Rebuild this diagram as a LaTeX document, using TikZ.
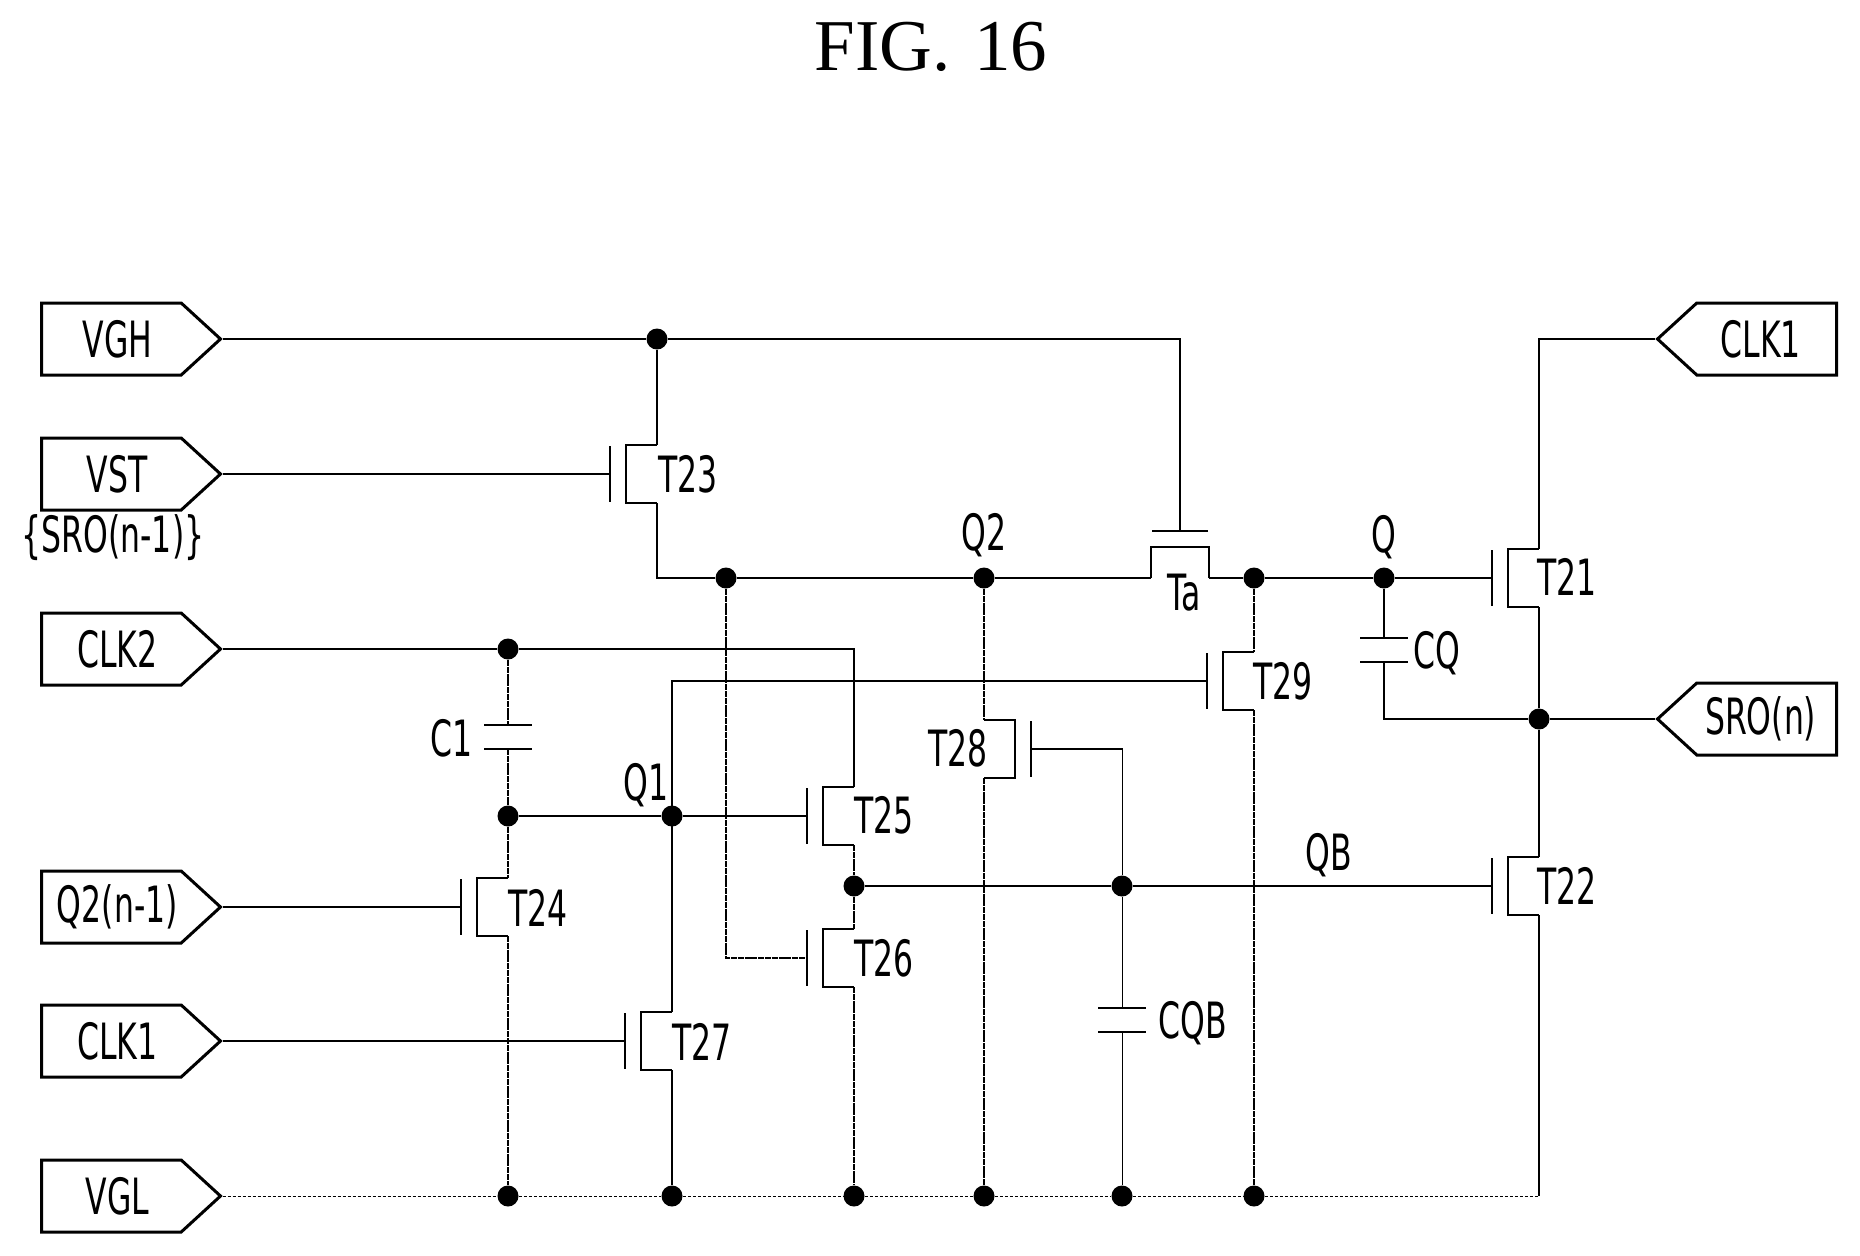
\documentclass[tikz,border=0pt]{standalone}
\usepackage{fontspec}
\usepackage{xcolor}
\usepackage{tikz}
\usetikzlibrary{shapes.symbols}
\setmainfont{Liberation Serif}
\newfontfamily\schemfont[FakeStretch=0.63]{DejaVu Sans}
\tikzset{
    wire/.style={line width=1.1pt, black},
    thinwire/.style={line width=0.7pt, black, dash pattern=on 3pt off 0.4pt},
    faintwire/.style={line width=0.35pt, black},
    railwire/.style={line width=0.45pt, black, dash pattern=on 1.6pt off 0.9pt},
    jdot/.style={circle, fill=black, draw=none, minimum size=10.5pt, inner sep=0pt},
    netlabel/.style={font=\schemfont\fontsize{25}{25}\selectfont, inner sep=0pt},
    tag/.style={shape=signal, draw=black, line width=1.5pt, fill=white, inner sep=0pt,
        minimum width=89.5pt, minimum height=36pt, signal pointer angle=85,
        font=\schemfont\fontsize{25}{25}\selectfont},
    tagin/.style={tag, signal to=east, anchor=west, execute at begin node=\hspace*{6pt}},
    tagout/.style={tag, signal to=west, anchor=east, execute at end node=\hspace*{6pt}},
    pics/tft/.style={code={
        \draw[line width=1.1pt] (0,-29) -- (-31,-29) -- (-31,29) -- (0,29);
        \draw[line width=1.3pt] (-47,-28) -- (-47,28);
        \coordinate (-d) at (0,-29);
        \coordinate (-s) at (0,29);
        \coordinate (-g) at (-47,0);
    }},
    pics/cap/.style={code={
        \draw[line width=1.3pt] (-24,-12) -- (24,-12);
        \draw[line width=1.3pt] (-24,12) -- (24,12);
        \coordinate (-a) at (0,-12);
        \coordinate (-b) at (0,12);
    }},
}

\begin{document}
\begin{tikzpicture}[x=0.5pt, y=-0.5pt]
    \useasboundingbox (0,0) rectangle (1860,1255);

    \node[font=\fontsize{36.5}{36.5}\selectfont, inner sep=0pt] (title) at (931,47) {FIG.\hspace{12pt}16};

    \node[tagin] (vgh) at (40,339) {VGH};
    \node[tagin] (vst) at (40,474) {VST};
    \node[netlabel] (srolabel) at (113,538) {\{SRO(n-1)\}};
    \node[tagin] (clk2) at (40,649) {CLK2};
    \node[tagin] (q2prev) at (40,907) {Q2(n-1)};
    \node[tagin] (clk1in) at (40,1041) {CLK1};
    \node[tagin] (vgl) at (40,1196) {VGL};
    \node[tagout] (clk1out) at (1838,339) {CLK1};
    \node[tagout] (sro) at (1838,719) {SRO(n)};

    \pic (t23) at (657,474) {tft};
    \pic (t24) at (508,907) {tft};
    \pic (t25) at (854,816) {tft};
    \pic (t26) at (854,958) {tft};
    \pic (t27) at (672,1041) {tft};
    \pic[xscale=-1] (t28) at (984,749) {tft};
    \pic (t29) at (1254,681) {tft};
    \pic (t21) at (1539,578) {tft};
    \pic (t22) at (1539,886) {tft};
    \pic[rotate=-90] (ta) at (1180,578) {tft};
    \pic (c1) at (508,737) {cap};
    \pic (cq) at (1384,650) {cap};
    \pic (cqb) at (1122,1020) {cap};

    \node[jdot] (dvgh) at (657,339) {};
    \node[jdot] (dclk) at (508,649) {};
    \node[jdot] (dsrc) at (726,578) {};
    \node[jdot] (dq2) at (984,578) {};
    \node[jdot] (dta) at (1254,578) {};
    \node[jdot] (dq) at (1384,578) {};
    \node[jdot] (dout) at (1539,719) {};
    \node[jdot] (dc1) at (508,816) {};
    \node[jdot] (dq1) at (672,816) {};
    \node[jdot] (dqbl) at (854,886) {};
    \node[jdot] (dqbr) at (1122,886) {};
    \node[jdot] (gnda) at (508,1196) {};
    \node[jdot] (gndb) at (672,1196) {};
    \node[jdot] (gndc) at (854,1196) {};
    \node[jdot] (gndd) at (984,1196) {};
    \node[jdot] (gnde) at (1122,1196) {};
    \node[jdot] (gndf) at (1254,1196) {};
    \coordinate (gndend) at (1539,1196);

    \draw[wire] (vgh.east) -- (dvgh) -| (ta-g);
    \draw[wire] (dvgh) -- (t23-d);
    \draw[wire] (vst.east) -- (t23-g);
    \draw[wire] (t23-s) |- (dsrc);
    \draw[wire] (dsrc) -- (dq2) -- (ta-s);
    \draw[wire] (ta-d) -- (dta) -- (dq) -- (t21-g);
    \draw[wire] (clk1out.west) -| (t21-d);
    \draw[wire] (t21-s) -- (dout) -- (t22-d);
    \draw[wire] (sro.west) -- (dout);
    \draw[wire] (dq) -- (cq-a);
    \draw[wire] (cq-b) |- (dout);
    \draw[wire] (clk2.east) -- (dclk);
    \draw[wire] (dclk) -| (t25-d);
    \draw[thinwire] (dclk) -- (c1-a);
    \draw[thinwire] (c1-b) -- (dc1);
    \draw[wire] (dc1) -- (dq1) -- (t25-g);
    \draw[thinwire] (dc1) -- (t24-d);
    \draw[thinwire] (t24-s) -- (gnda);
    \draw[wire] (q2prev.east) -- (t24-g);
    \draw[wire] (clk1in.east) -- (t27-g);
    \draw[wire] (t29-g) -| (t27-d);
    \draw[wire] (t27-s) -- (gndb);
    \draw[thinwire] (dsrc) |- (t26-g);
    \draw[thinwire] (t25-s) -- (dqbl) -- (t26-d);
    \draw[thinwire] (t26-s) -- (gndc);
    \draw[wire] (dqbl) -- (dqbr) -- (t22-g);
    \draw[thinwire] (dq2) -- (t28-d);
    \draw[thinwire] (t28-s) -- (gndd);
    \draw[wire] (t28-g) -- ++(92,0);
    \draw[faintwire] (dqbr) -- ++(0,-137);
    \draw[faintwire] (dqbr) -- (cqb-a);
    \draw[faintwire] (cqb-b) -- (gnde);
    \draw[thinwire] (dta) -- (t29-d);
    \draw[thinwire] (t29-s) -- (gndf);
    \draw[wire] (t22-s) -- (gndend);
    \draw[railwire] (vgl.east) -- (gnda) -- (gndb) -- (gndc) -- (gndd) -- (gnde) -- (gndf) -- (gndend);

    \node[netlabel] (lt23) at (688,474) {T23};
    \node[netlabel] (lt24) at (538,908) {T24};
    \node[netlabel] (lt25) at (884,815) {T25};
    \node[netlabel] (lt26) at (884,958) {T26};
    \node[netlabel] (lt27) at (702,1042) {T27};
    \node[netlabel] (lt28) at (958,748) {T28};
    \node[netlabel] (lt29) at (1283,681) {T29};
    \node[netlabel] (lt21) at (1567,577) {T21};
    \node[netlabel] (lt22) at (1567,886) {T22};
    \node[netlabel] (lta) at (1184,593) {Ta};
    \node[netlabel] (lc1) at (452,738) {C1};
    \node[netlabel] (lcq) at (1437,653) {CQ};
    \node[netlabel] (lcqb) at (1193,1023) {CQB};
    \node[netlabel] (lq1) at (646,785) {Q1};
    \node[netlabel] (lq2) at (984,535) {Q2};
    \node[netlabel] (lq) at (1384,537) {Q};
    \node[netlabel] (lqb) at (1329,855) {QB};
\end{tikzpicture}
\end{document}
